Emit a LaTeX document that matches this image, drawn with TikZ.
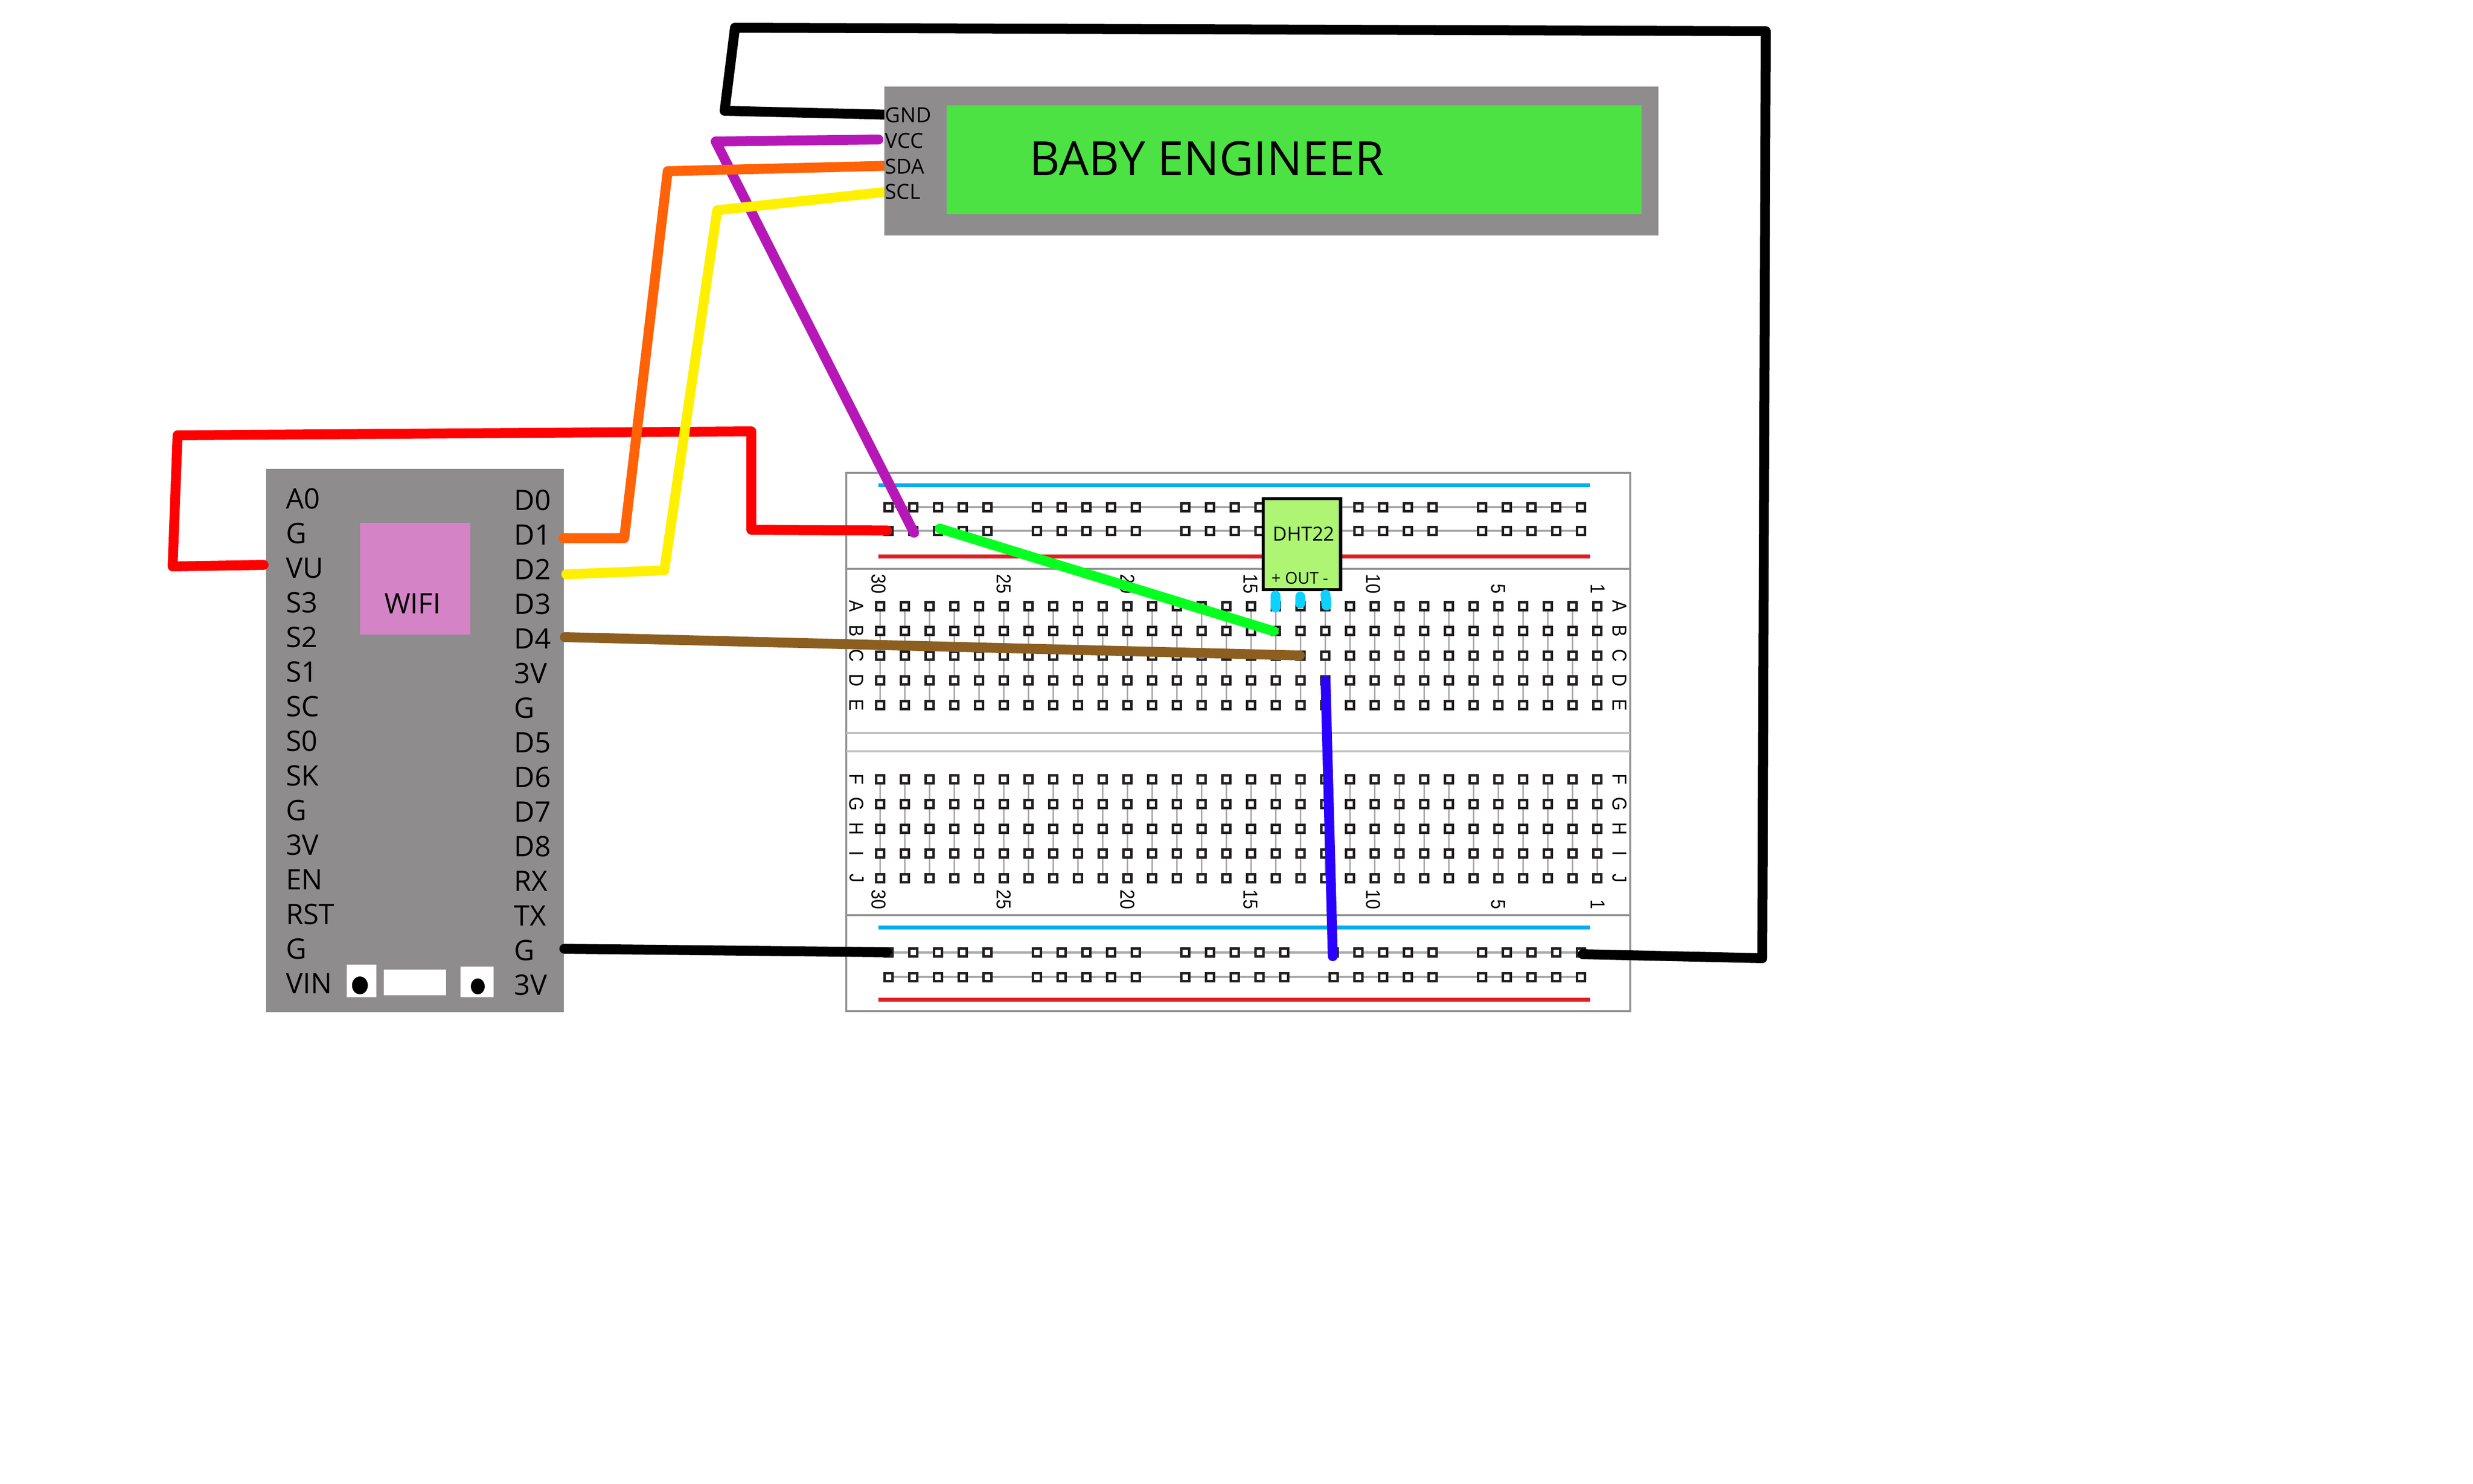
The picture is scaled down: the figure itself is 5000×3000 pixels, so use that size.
\documentclass[tikz,border=0pt]{standalone}
\usepackage{fontspec}
\setmainfont{Open Sans}
\newfontfamily\bbfont[FakeStretch=0.87]{Liberation Sans}
\definecolor{boardgray}{HTML}{8E8C8D}
\definecolor{wifipink}{HTML}{D484C6}
\definecolor{lcdgreen}{HTML}{4DE243}
\definecolor{dhtgreen}{HTML}{AEF573}
\definecolor{pincyan}{HTML}{0DD1FF}
\definecolor{railblue}{HTML}{00AEEF}
\definecolor{railred}{HTML}{DE1F26}
\definecolor{edgegray}{HTML}{939598}
\definecolor{midgray}{HTML}{BCBEC0}
\definecolor{linkgray}{HTML}{A7A9AC}
\definecolor{holeblack}{HTML}{231F20}
\definecolor{wred}{HTML}{FF0000}
\definecolor{worange}{HTML}{FF6207}
\definecolor{wyellow}{HTML}{FFF000}
\definecolor{wbrown}{HTML}{8C5E1F}
\definecolor{wpurple}{HTML}{B618B8}
\definecolor{wgreen}{HTML}{06FF20}
\definecolor{wblue}{HTML}{2A00FF}
\tikzset{
  wire/.style={line width=2mm,line cap=round,line join=round},
  hole/.style={draw=holeblack,fill=white,line width=.5mm},
  pinlbl/.style={inner sep=0pt,anchor=base west,font=\fontsize{16.2}{16.2}\selectfont},
  lcdlbl/.style={inner sep=0pt,anchor=base west,font=\fontsize{11.95}{11.95}\selectfont},
  bbletter/.style={inner sep=0pt,rotate=-90,font=\bbfont\fontsize{11.6}{11.6}\selectfont},
  bbnum/.style={inner sep=0pt,rotate=-90,anchor=east,font=\bbfont\fontsize{11.6}{11.6}\selectfont},
  rail/.style={line width=.85mm},
}
\begin{document}
\begin{tikzpicture}[x=0.01cm,y=-0.01cm]
\useasboundingbox (0,0) rectangle (5000,3000);
\fill[white] (0,0) rectangle (5000,3000);
% ---- breadboard
\draw[edgegray,line width=.4mm] (1711,956) rectangle (3296,2044);
\draw[edgegray,line width=.4mm] (1711,1150) -- (3296,1150) (1711,1850) -- (3296,1850);
\draw[midgray,line width=.4mm] (1711,1481.5) -- (3296,1481.5) (1711,1519) -- (3296,1519);
\draw[railblue,rail] (1776,981) -- (3215,981) (1776,1875) -- (3215,1875);
\draw[railred,rail] (1776,1125) -- (3215,1125) (1776,2021) -- (3215,2021);
\foreach \ry in {1025,1073,1925.5,1975}{
  \draw[linkgray,line width=.42mm] (1796,\ry) -- (3196,\ry);
  \foreach \g in {0,300,600,900,1200}{
    \foreach \k in {0,50,100,150,200}{
      \draw[hole] ({1796+\g+\k-8},\ry-8) rectangle ({1796+\g+\k+8},\ry+8);
    }
  }
}
\foreach \c in {0,...,29}{
  \pgfmathsetmacro\cx{1779.5+50*\c}
  \draw[linkgray,line width=.35mm] (\cx,1225) -- (\cx,1425) (\cx,1575) -- (\cx,1775);
  \foreach \ry in {1225,1275,1325,1375,1425,1575,1625,1675,1725,1775}{
    \draw[hole] (\cx-8,\ry-8) rectangle (\cx+8,\ry+8);
  }
}
\foreach \l/\ry in {A/1225,B/1275,C/1325,D/1375,E/1425,F/1575,G/1625,H/1675,I/1725,J/1775}{
  \node[bbletter] (bl\l) at (1732,\ry) {\l};
  \node[bbletter] (br\l) at (3274,\ry) {\l};
}
\foreach \n/\nx in {30/1777,25/2029.5,20/2279.5,15/2528,10/2777,5/3029,1/3230}{
  \node[bbnum] (nt\n) at (\nx,1201) {\n};
  \node[bbnum] (nb\n) at (\nx,1839) {\n};
}
% ---- ESP board
\fill[boardgray] (538,948) rectangle (1140,2046);
\fill[wifipink] (728,1057) rectangle (951,1283);
\node[pinlbl,anchor=base] (wifi) at (834,1240) {WIFI};
\foreach \t/\py [count=\i] in {A0/1028,G/1098,VU/1168,S3/1238,S2/1308,S1/1378,SC/1448,S0/1518,SK/1588,G/1658,3V/1728,EN/1798,RST/1868,G/1938,VIN/2008}{
  \node[pinlbl] (l\i) at (577.5,\py) {\t};
}
\foreach \t/\py [count=\i] in {D0/1031,D1/1101,D2/1171,D3/1241,D4/1311,3V/1381,G/1451,D5/1521,D6/1591,D7/1661,D8/1731,RX/1801,TX/1871,G/1941,3V/2011}{
  \node[pinlbl] (r\i) at (1039,\py) {\t};
}
\fill[white] (701,1950) rectangle (761,2016);
\fill[white] (776,1960) rectangle (902,2012);
\fill[white] (931,1954) rectangle (998,2016);
\fill[black] (727.7,1992) ellipse [x radius=16,y radius=18];
\fill[black] (966,1994) ellipse [x radius=14,y radius=16];
% ---- wire end points
\coordinate (vu) at (533,1142);
\coordinate (d1) at (1139,1088);
\coordinate (d2) at (1145,1161);
\coordinate (d4) at (1142,1288);
\coordinate (g2) at (1141,1918);
\coordinate (gnd) at (1800,232);
\coordinate (vcc) at (1776,282);
\coordinate (sda) at (1800,335);
\coordinate (scl) at (1800,387);
% ---- wires
\draw[wire,wpurple] (vcc) -- (1447,286) -- (1848,1077);
\draw[wire,black] (gnd) -- (1465,224) -- (1486,56) -- (3570,63) -- (3563,1937) -- (3200,1929);
\draw[wire,wred] (vu) -- (349,1145) -- (359,880) -- (1519,872) -- (1519,1071) -- (1793.5,1072.4);
\draw[wire,worange] (d1) -- (1262,1088) -- (1350,346) -- (sda);
\draw[wire,wyellow] (d2) -- (1343,1153) -- (1450,425) -- (scl);
\draw[wire,black] (g2) -- (1793,1925);
% ---- DHT22
\draw[black,line width=.68mm,fill=dhtgreen] (2554,1008) rectangle (2710.5,1192);
\node[inner sep=0pt,anchor=base,font=\fontsize{11.2}{11.2}\selectfont] (dht) at (2636,1093) {DHT22};
\node[inner sep=0pt,anchor=base,font=\fontsize{9.39}{9.39}\selectfont] (dhtpins) at (2628,1180) {+ OUT -};
\draw[wire,pincyan] (2578.6,1204) -- (2578.6,1228);
\draw[wire,pincyan] (2628.6,1206) -- (2628.6,1220);
\draw[wire,pincyan] (2680,1202) -- (2682,1224);
\draw[wire,wgreen] (1900,1068.5) -- (2575,1276);
\draw[wire,wbrown] (d4) -- (2628,1325);
\draw[wire,wblue] (2680,1376) -- (2694.6,1933);
% ---- LCD
\fill[boardgray] (1788,175) rectangle (3353,476);
\fill[lcdgreen] (1914,213) rectangle (3319,433);
\node[inner sep=0pt,anchor=base west,font=\fontsize{27.1}{27.1}\selectfont] (title) at (2081,354) {BABY ENGINEER};
\node[lcdlbl] (lgnd) at (1789,248) {GND};
\node[lcdlbl] (lvcc) at (1789,299) {VCC};
\node[lcdlbl] (lsda) at (1789,351) {SDA};
\node[lcdlbl] (lscl) at (1789,402) {SCL};
\end{tikzpicture}
\end{document}
